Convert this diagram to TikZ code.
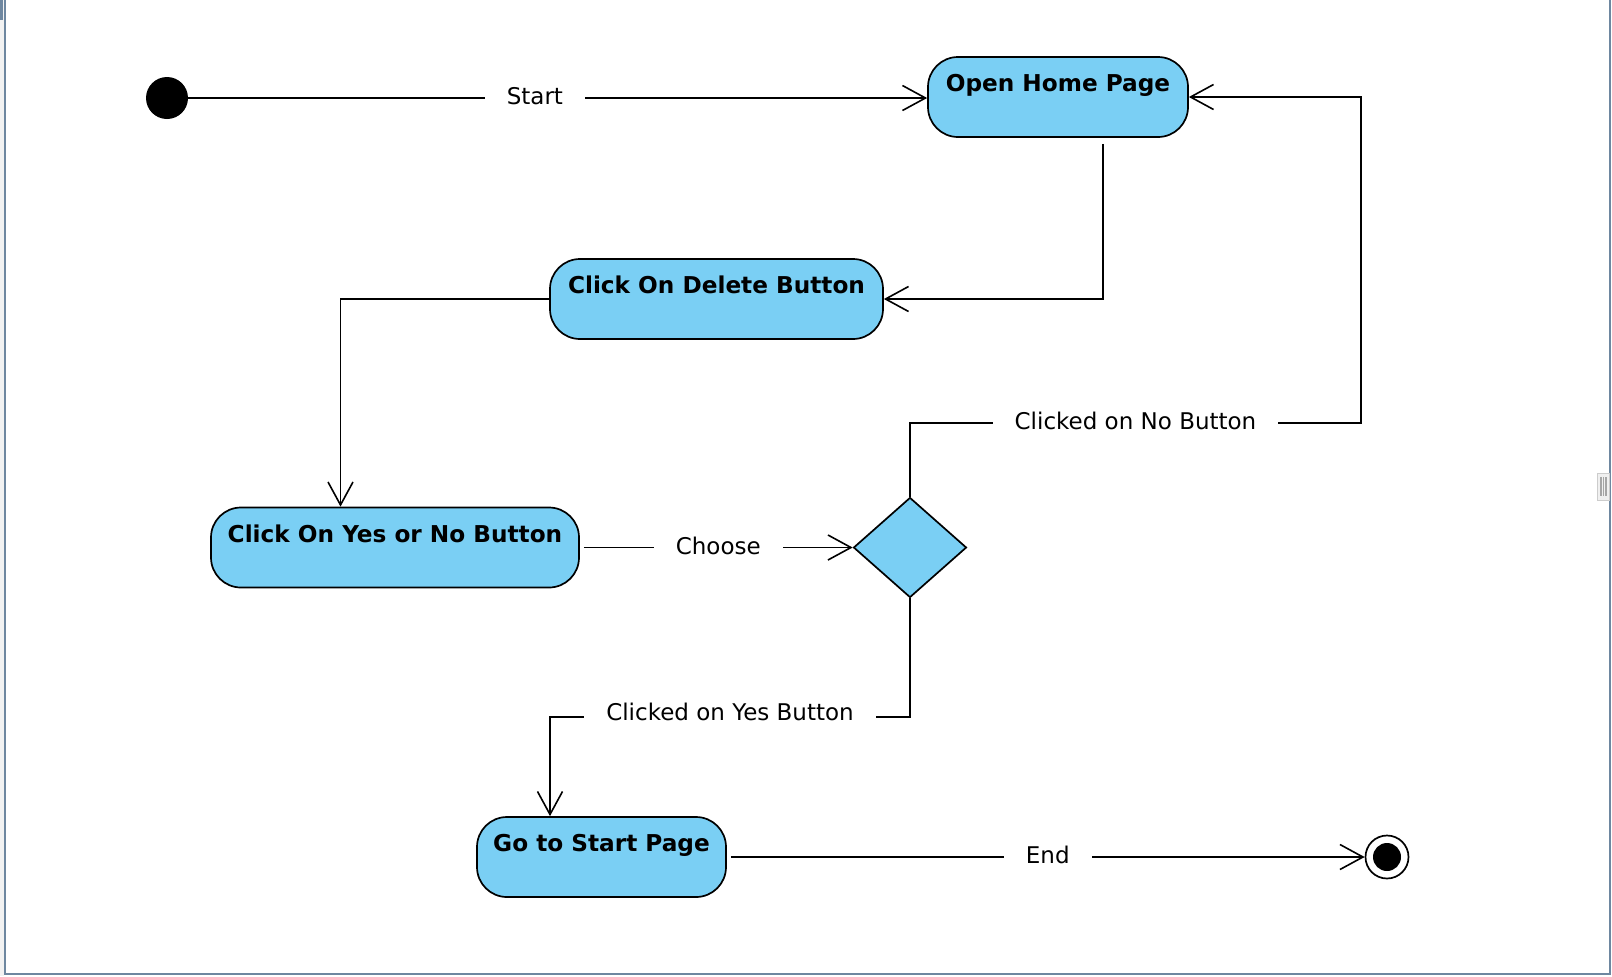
\documentclass[tikz,border=0pt]{standalone}
\usepackage{fontspec}
\setmainfont{DejaVu Sans}
\usetikzlibrary{arrows.meta,shapes.geometric}
\definecolor{actblue}{RGB}{122,207,244}
\definecolor{frameblue}{RGB}{110,135,160}
\begin{document}
\begin{tikzpicture}[x=0.5pt, y=-0.5pt,
    act/.style = {draw, fill=actblue, line width=0.85pt, rounded corners=15pt, inner sep=0pt, text height=17.25pt, text depth=22.75pt, font=\fontsize{11.6}{14}\selectfont\bfseries},
    flow/.style = {draw, line width=0.8pt, -{Straight Barb[length=11.5pt, width=12.5pt]}},
    lbl/.style = {fill=white, inner xsep=11pt, inner ysep=2pt, yshift=1pt, font=\fontsize{11.5}{14}\selectfont}]
    \useasboundingbox (0,0) rectangle (1612,976);
    \fill[gray!10] (0,0) rectangle (4,976);
    \fill[frameblue] (0,0) rectangle (3,20);
    \draw[frameblue, line width=1pt] (4.5,0) -- (4.5,974) -- (1610,974) -- (1610,0);
    \draw[gray!40, fill=gray!12] (1597,473) rectangle (1609,500);
    \foreach \x in {1601,1603.5,1606}
        \draw[gray!70, line width=0.6pt] (\x,477) -- (\x,496);
    \node[circle, fill=black, minimum size=21pt, inner sep=0pt] (1) at (167,98) {};
    \node[act, minimum width=130pt] (2) at (1058,97) {Open Home Page};
    \node[act, minimum width=166.5pt] (3) at (716.5,299) {Click On Delete Button};
    \node[act, minimum width=184pt] (4) at (395,547.5) {Click On Yes or No Button};
    \node[diamond, draw, fill=actblue, line width=0.85pt, minimum width=56.5pt, minimum height=50pt, inner sep=0pt] (5) at (910,547.5) {};
    \node[act, minimum width=124.5pt] (6) at (601.5,857) {Go to Start Page};
    \node[circle, draw, fill=white, line width=0.85pt, minimum size=21.5pt, inner sep=0pt,
        path picture={\fill[black] (path picture bounding box.center) circle (7pt);}] (7) at (1387,857) {};
    \coordinate (c1) at (1361,423);
    \coordinate (c2) at (550,717);
    \draw[flow] (1.east) -- node[lbl, pos=0.469] (l1) {Start} (1.east -| 2.west);
    \draw[flow] ([xshift=22.5pt, yshift=-3pt]2.south) |- (3.east);
    \draw[flow] (3.west) -| ([xshift=-27.25pt]4.north);
    \draw[flow] ([xshift=2pt]4.east) -- node[lbl] (l2) {Choose} (5.west);
    \draw[flow] (5.north) |- node[lbl, pos=0.75] (l3) {Clicked on No Button} (c1) |- (2.east);
    \draw[flow] (5.south) |- node[lbl, pos=0.75, yshift=1.5pt] (l4) {Clicked on Yes Button} (c2) -- (c2 |- 6.north);
    \draw[flow] ([xshift=2pt]6.east) -- node[lbl] (l5) {End} (7.west);
\end{tikzpicture}
\end{document}
